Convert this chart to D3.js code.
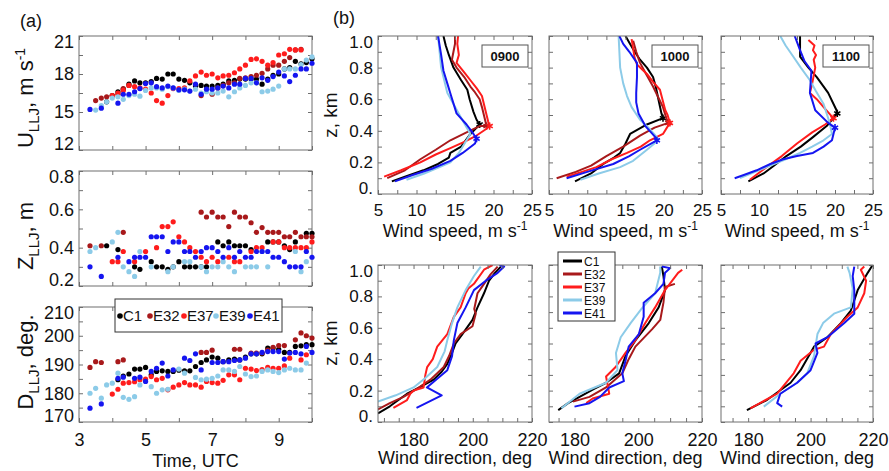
<!DOCTYPE html>
<html>
<head>
<meta charset="utf-8">
<script src="https://cdn.jsdelivr.net/npm/d3@7"></script>
<style>
  body { margin: 0; background: #fff; }
  text { font-family: "Liberation Sans", Arial, Helvetica, sans-serif; fill: #111; }
</style>
</head>
<body>
<svg id="chart" width="889" height="471"></svg>
<script>
// ---------- data ----------
var stations = ["C1", "E32", "E37", "E39", "E41"];
var colors = ["#000000", "#a8191b", "#ff1c1c", "#8ccbe8", "#1515f0"];

// (a) 10-min LLJ statistics, 03:20 - 10:00 UTC
var hours = [3.33,3.5,3.67,3.83,4,4.17,4.33,4.5,4.67,4.83,5,5.17,5.33,5.5,5.67,5.83,6,6.17,6.33,6.5,6.67,6.83,
             7,7.17,7.33,7.5,7.67,7.83,8,8.17,8.33,8.5,8.67,8.83,9,9.17,9.33,9.5,9.67,9.83,10];

var uC1  = [null,null,null,15.8,16.3,16.6,16.8,17.2,17.45,17.3,17.3,17.4,17.65,17.6,18.0,18.0,17.6,17.5,17.3,17.05,17.1,17.05,17.05,17.1,17.2,17.45,17.5,17.6,17.6,17.6,17.6,17.2,17.6,17.9,18.0,18.4,18.5,19.0,18.8,18.9,19.2];
var uE32 = [null,15.9,16.1,16.2,16.3,16.4,16.85,17.1,null,null,null,null,null,null,null,null,null,null,null,null,16.3,null,16.4,16.9,17.1,17.3,17.3,17.65,17.7,17.8,17.9,18.05,18.4,18.7,18.7,19.0,19.3,19.9,19.95,null,null];
var uE37 = [null,null,null,null,16.3,16.5,16.7,17.1,17.0,16.9,16.8,16.5,15.9,15.7,16.3,16.85,16.85,16.9,17.45,17.85,18.15,17.9,18.0,17.7,17.85,17.9,18.1,18.4,18.7,19.15,19.2,19.0,18.7,18.9,19.5,19.6,19.95,19.9,19.9,null,null];
var uE39 = [null,15.15,15.5,15.8,16.1,16.2,16.0,16.3,16.4,16.25,16.7,16.9,16.9,16.8,17.0,16.9,16.7,16.8,16.65,16.8,16.5,16.6,16.5,16.5,16.65,16.2,16.6,16.9,17.1,17.3,17.3,16.6,16.65,16.8,17.05,18.4,18.4,18.4,18.75,19.1,19.35];
var uE41 = [15.2,null,15.3,null,null,15.7,16.4,16.4,16.6,16.85,17.25,17.3,17.0,16.9,17.05,16.9,16.75,16.75,16.65,17.2,16.4,16.8,16.8,16.9,17.05,16.9,17.2,17.2,17.65,17.65,17.3,17.7,17.5,17.8,18.15,17.85,17.4,17.9,18.4,18.4,18.85];

var zC1  = [null,null,null,0.41,null,0.39,null,null,0.30,0.287,null,0.327,0.30,0.30,0.287,0.30,0.327,0.30,0.30,0.30,0.30,0.30,null,0.43,0.41,0.43,0.41,0.41,0.41,0.39,null,null,0.43,0.43,0.43,0.41,0.39,0.43,null,0.475,0.475];
var zE32 = [0.41,null,0.41,null,null,null,0.48,null,null,null,null,null,null,null,null,null,null,null,null,null,0.585,0.56,0.585,0.56,0.56,0.51,0.585,0.56,0.56,0.53,0.48,0.505,0.48,0.48,0.48,0.457,0.457,0.48,0.457,0.457,0.457];
var zE37 = [null,null,null,null,0.327,0.327,0.38,null,0.327,null,0.38,null,0.40,0.51,0.51,0.535,0.457,0.43,0.40,0.38,0.35,0.327,0.35,0.327,null,0.35,0.327,0.327,null,0.38,0.40,0.40,null,0.43,0.43,0.40,0.40,0.40,0.40,0.40,0.43];
var zE39 = [0.38,0.40,null,null,0.43,0.48,0.30,0.275,0.25,0.38,null,0.30,null,null,0.275,0.30,null,0.327,0.327,null,0.30,0.275,0.30,0.30,0.327,0.30,0.275,null,0.30,0.30,0.30,0.38,0.30,null,null,null,null,0.38,0.275,0.327,null];
var zE41 = [0.30,null,0.25,null,null,0.35,null,0.327,0.35,0.35,0.35,0.457,0.457,0.457,0.38,0.43,0.43,0.38,0.38,0.35,0.38,0.40,0.40,0.38,0.35,0.40,0.35,0.38,0.35,0.35,0.38,0.38,0.38,0.35,0.35,0.327,0.30,0.30,0.30,0.38,0.35];

var dC1  = [null,null,null,null,null,184.7,186,186.7,188.4,188.4,189,186.4,187.6,187.8,187.6,187.6,188,187.8,187.8,189.3,190.7,191.6,192.6,192.2,191,191.6,191.9,191.6,192.6,193.7,193.7,193.7,195.7,195.7,195.3,194.2,194.2,196.3,196.5,196.9,196.9];
var dE32 = [189,191,190.7,null,null,191,191.6,null,null,null,null,null,null,null,null,null,null,null,null,null,194.2,194.2,195,null,null,null,195.3,195.3,null,194,194,194,195,196,196.6,196.6,null,198.6,201,200,199.2];
var dE37 = [null,null,null,null,179.7,181.4,183.5,183.7,184,184.7,184.9,185.8,184.7,185.2,181.2,182.1,182.9,183.7,182.9,182.9,182.1,184.1,183.7,183.5,184.5,186.4,186.4,184.7,188.7,188.4,187.9,188.2,189,188.7,188.7,189.5,192.2,null,191.6,193.4,null];
var dE39 = [180,181.7,178.3,182.9,183.5,187,178.6,177.9,178.8,182.9,null,182.3,180,181.2,181.4,null,188.4,187,null,185.5,184.7,184.9,185.2,186,188.1,188.1,187.6,189.3,186.7,185.8,186,187.6,188.1,187.6,187.2,188.1,188.7,188.1,188.1,190.5,null];
var dE41 = [174.8,null,176.3,null,null,185.2,185.6,null,185.2,185.6,184.1,187.6,188.7,190.5,186,188.1,null,192.2,191.4,193.7,188.1,null,190.7,190.7,191,191,191.4,191.6,192.2,193.7,193.7,194.2,194.5,194.5,194.5,191.9,194,194.2,193.7,196.3,194.2];

// (b) profiles: [value, z km], order C1, E32, E37, E39, E41
var spd0900 = [
  [[6.8,0.08],[8.5,0.11],[10.9,0.15],[12.8,0.19],[14.2,0.23],[14.4,0.26],[15.8,0.3],[17,0.38],[18.2,0.44],[17.8,0.47],[17.4,0.52],[16.9,0.6],[16.6,0.66],[15.8,0.72],[14.8,0.8],[14.2,0.88],[13.8,0.94],[13.5,1.0]],
  [[6.2,0.1],[8.5,0.15],[10.5,0.22],[12.5,0.28],[14.4,0.34],[16.5,0.39],[18.2,0.43],[19.1,0.43],[18.9,0.47],[18.5,0.55],[18.2,0.6],[17.5,0.65],[17,0.68],[16.2,0.74],[15.2,0.8],[14.6,0.85],[14.8,0.9],[15.0,0.95],[15,1.0]],
  [[5.8,0.11],[8,0.15],[10.5,0.2],[12.5,0.25],[14.4,0.29],[16.2,0.33],[17.8,0.37],[19,0.41],[19.5,0.43],[19.3,0.46],[19.1,0.5],[18.8,0.56],[18.5,0.62],[17.8,0.67],[17,0.72],[16.2,0.77],[15.2,0.83],[15.5,0.88],[15.3,0.95],[15.4,1.0]],
  [[8.7,0.09],[11,0.13],[13,0.17],[14.4,0.2],[15.5,0.26],[16.5,0.34],[17,0.38],[16.4,0.43],[15.7,0.49],[14.8,0.57],[14,0.64],[13.6,0.72],[13.2,0.8],[13,0.9],[12.8,1.0]],
  [[7.2,0.08],[9.5,0.12],[12,0.16],[14.4,0.21],[16,0.26],[17.6,0.32],[17.8,0.35],[17.4,0.38],[16.5,0.44],[15.2,0.51],[14.5,0.62],[14,0.7],[13.5,0.78],[13.2,0.88],[12.8,1.0]]
];
var spd1000 = [
  [[8.4,0.08],[10.5,0.13],[12.1,0.19],[13.5,0.23],[14.3,0.26],[15,0.32],[15.6,0.38],[17.8,0.44],[19.9,0.48],[19.7,0.51],[19.3,0.6],[19,0.67],[18.6,0.74],[17.8,0.8],[16.9,0.85],[16.2,0.9],[15.6,0.95],[15,1.0]],
  [[6,0.1],[8.5,0.14],[10.5,0.18],[12.5,0.24],[14.7,0.3],[16.9,0.37],[18.8,0.42],[20.6,0.45],[20.4,0.47],[19.9,0.55],[19.2,0.62],[18.6,0.68],[17.8,0.75],[16.9,0.83],[16.4,0.9],[16,0.97]],
  [[7.3,0.11],[9.3,0.14],[11.2,0.17],[13.2,0.22],[15.2,0.26],[17,0.3],[18.2,0.34],[19.9,0.38],[20.8,0.45],[20.5,0.5],[20.2,0.53],[19.5,0.66],[18.6,0.71],[17.8,0.76],[16.5,0.82],[16.2,0.86],[16,0.92],[15.8,0.98]],
  [[9.1,0.09],[11.5,0.13],[14.3,0.17],[16,0.21],[17.8,0.28],[19.3,0.34],[19.1,0.36],[18,0.42],[16.9,0.47],[15.8,0.55],[15.2,0.62],[14.7,0.7],[14.3,0.8],[14.2,0.9],[14.1,1.0]],
  [[7.3,0.1],[10,0.14],[13.4,0.19],[15.5,0.24],[16.9,0.28],[19.1,0.34],[18.9,0.36],[17.6,0.43],[16.7,0.51],[16.4,0.58],[16.4,0.64],[16.5,0.74],[16.5,0.83],[15.5,0.9],[14.7,0.95],[14.2,1.0]]
];
var spd1100 = [
  [[8.6,0.08],[10.6,0.13],[12,0.18],[13.6,0.24],[15.5,0.3],[17.1,0.36],[18.9,0.43],[20.3,0.51],[20.2,0.53],[19.1,0.64],[17.6,0.74],[16.5,0.8],[15.4,0.87],[15.4,0.94],[15.4,1.0]],
  null,
  [[8.8,0.09],[11,0.17],[13,0.24],[15,0.32],[17,0.39],[18.7,0.44],[19.8,0.48],[19.6,0.49],[18.5,0.55],[17.6,0.6],[16.7,0.64],[17,0.7],[17.4,0.8],[17.2,0.85],[17.5,0.88],[17.1,0.91],[17.3,0.94],[16.5,0.975]],
  [[7.5,0.1],[11,0.17],[13.5,0.22],[15.4,0.26],[17,0.3],[18.5,0.34],[19.6,0.38],[19.3,0.45],[18.5,0.57],[17.5,0.65],[16.7,0.72],[15.5,0.8],[14.5,0.87],[13.5,0.94],[12.8,1.0]],
  [[6.8,0.1],[8,0.12],[9.7,0.15],[11.5,0.19],[13.2,0.22],[15,0.24],[17.1,0.26],[18.5,0.3],[19.6,0.34],[19.8,0.38],[20,0.42],[19.1,0.45],[17.4,0.53],[16.7,0.64],[16.9,0.78],[16,0.84],[15.4,0.91],[14.7,1.0]]
];
var dir0900 = [
  [[168,0.055],[172,0.1],[177.8,0.18],[182,0.22],[186.8,0.27],[189.5,0.32],[191.4,0.37],[193,0.44],[194.2,0.5],[196.5,0.56],[199.9,0.65],[201.6,0.73],[203.8,0.82],[205.5,0.9],[207.5,0.95],[209.5,0.99]],
  [[168,0.08],[172,0.12],[176.6,0.16],[181,0.21],[185.7,0.27],[190.2,0.35],[192,0.42],[193.6,0.5],[195.9,0.56],[199.9,0.61],[201,0.69],[200.5,0.72],[201.6,0.82],[203.8,0.88],[206,0.94],[208.4,0.99]],
  [[173.2,0.09],[177.8,0.14],[178.9,0.18],[180,0.2],[183.4,0.22],[184,0.3],[184.6,0.35],[186.5,0.4],[188,0.48],[191.4,0.56],[193.6,0.67],[195.9,0.73],[197.6,0.82],[198.5,0.85],[200.4,0.88],[203.8,0.97],[206.7,1.0]],
  [[168,0.13],[174,0.17],[180,0.22],[184,0.28],[188,0.35],[190.5,0.45],[191.4,0.52],[193,0.63],[194.8,0.73],[197.6,0.84],[200.4,0.93],[202.7,0.99]],
  [[181,0.09],[189.5,0.17],[184.5,0.22],[187,0.26],[191.4,0.33],[193,0.42],[193.6,0.52],[194.8,0.63],[197.6,0.73],[200.4,0.84],[204.4,0.9],[208.4,0.95],[210.6,0.99],[209,1.0]]
];
var dir1000 = [
  [[174.9,0.076],[178,0.12],[181.6,0.16],[186,0.21],[189.9,0.25],[194,0.31],[196,0.42],[199.1,0.52],[203.3,0.63],[206.4,0.73],[208.4,0.84],[207.9,0.93],[207.4,0.99]],
  [[179.5,0.13],[184.7,0.16],[189.9,0.22],[195,0.31],[197,0.4],[199.1,0.48],[204.3,0.59],[206.9,0.65],[207.9,0.76],[208.4,0.86],[211.5,0.88]],
  [[183.7,0.12],[185.7,0.15],[190.9,0.18],[189.9,0.29],[192.9,0.35],[196,0.44],[199.1,0.52],[202.2,0.63],[205.3,0.73],[208.4,0.84],[212.5,0.95],[213.8,0.97]],
  [[175.9,0.087],[181.6,0.18],[189.9,0.25],[193.5,0.33],[193,0.44],[194.5,0.54],[197.6,0.63],[201,0.72],[205.3,0.82],[206.9,0.95],[206.9,0.99]],
  [[180,0.098],[184.7,0.12],[188,0.16],[190.9,0.22],[195.5,0.26],[195,0.31],[196,0.39],[197,0.48],[200.2,0.56],[201.7,0.67],[201.7,0.76],[205.3,0.82],[207.9,0.88],[208.4,0.95],[210,0.98],[207.4,0.99]]
];
var dir1100 = [
  [[179.6,0.076],[186,0.14],[193.6,0.25],[196.8,0.33],[201.1,0.48],[205.4,0.54],[209.7,0.63],[212.9,0.71],[215.1,0.84],[218.3,0.95],[219.9,1.0]],
  null,
  [[180.7,0.087],[189.3,0.18],[194.6,0.31],[196.8,0.39],[201.1,0.46],[204.3,0.48],[206.5,0.56],[211.8,0.67],[215.1,0.73],[217.2,0.82],[217.8,0.9],[216.1,0.97],[217.2,0.99]],
  [[185,0.098],[190.3,0.18],[195.7,0.25],[198.9,0.31],[201.1,0.42],[202.2,0.56],[204,0.63],[207.5,0.69],[212.9,0.73],[213.5,0.85],[212.5,0.95],[211.8,0.99]],
  [[190.9,0.098],[189.3,0.12],[190.3,0.18],[195.7,0.25],[200,0.33],[202.2,0.44],[201.6,0.5],[205.4,0.54],[210.8,0.63],[214,0.69],[214,0.84],[213.5,0.93],[214,0.99]]
];
var profileTimes = ["0900", "1000", "1100"];

// ---------- drawing ----------
var svg = d3.select("#chart");
var edge = "#6e6e6e";

function frame(xs, ys, o) {
  var x0 = xs.range()[0], x1 = xs.range()[1];
  var y1 = ys.range()[0], y0 = ys.range()[1];
  var g = svg.append("g");
  var none = function() { return ""; };

  var L = g.append("g").attr("transform", "translate(" + x0 + ",0)")
    .call(d3.axisLeft(ys).tickValues(o.yTicks).tickSize(-4).tickPadding(5).tickFormat(o.yLab || none));
  L.selectAll(".tick text").style("font-size", o.yFont + "px")
    .attr("y", function(d) {
      var p = ys(d);
      return p < y0 + 6 ? y0 + 6 - p : (p > y1 - 6 ? y1 - 6 - p : 0);
    });
  g.append("g").attr("transform", "translate(" + x1 + ",0)")
    .call(d3.axisRight(ys).tickValues(o.yTicks).tickSize(-4).tickFormat(none));

  var B = g.append("g").attr("transform", "translate(0," + y1 + ")")
    .call(d3.axisBottom(xs).tickValues(o.xTicks).tickSize(-4).tickPadding(o.xPad || 11).tickFormat(o.xLab || none));
  B.selectAll(".tick text").style("font-size", o.xFont + "px");
  g.append("g").attr("transform", "translate(0," + y0 + ")")
    .call(d3.axisTop(xs).tickValues(o.xTicks).tickSize(-4).tickFormat(none));

  g.selectAll(".domain").remove();
  g.selectAll(".tick line").attr("stroke", edge);
  g.append("rect").attr("x", x0).attr("y", y0).attr("width", x1 - x0).attr("height", y1 - y0)
    .attr("fill", "none").attr("stroke", edge).attr("stroke-width", 1);
  return g;
}

function rotLabel(x, y, parts, fs) {
  var t = svg.append("text").attr("transform", "translate(" + x + "," + y + ") rotate(-90)")
    .attr("text-anchor", "middle").style("font-size", fs + "px");
  parts.forEach(function(p) {
    var s = t.append("tspan").text(p[0]);
    if (p[1]) s.attr("dy", p[1]);
    if (p[2]) s.style("font-size", p[2] + "px");
  });
}

// ----- panel (a) -----
var tx = d3.scaleLinear().domain([3, 10]).range([79, 312]);
var hourTicks = d3.range(3, 11, 1);
var panelsA = [
  { vals: [uC1, uE32, uE37, uE39, uE41], dom: [12, 21], rng: [150, 36], ticks: d3.range(12, 21.1, 1.5),
    lab: function(d) { return d % 3 === 0 ? d : ""; } },
  { vals: [zC1, zE32, zE37, zE39, zE41], dom: [0.2, 0.8], rng: [286, 171], ticks: d3.range(0.2, 0.81, 0.1),
    lab: function(d) { var r = Math.round(d * 10); return r % 2 === 0 ? (r / 10).toFixed(1) : ""; } },
  { vals: [dC1, dE32, dE37, dE39, dE41], dom: [170, 210], rng: [422, 307], ticks: d3.range(170, 211, 5),
    lab: function(d) { return d % 10 === 0 ? d : ""; } }
];
panelsA.forEach(function(p, pi) {
  var ys = d3.scaleLinear().domain(p.dom).range(p.rng);
  frame(tx, ys, { yTicks: p.ticks, yLab: p.lab, yFont: 18, xTicks: hourTicks, xFont: 18,
    xLab: pi === 2 ? function(d) { return d % 2 === 1 ? d : ""; } : null });
  p.vals.forEach(function(arr, si) {
    var pts = hours.map(function(h, i) { return [h, arr[i]]; }).filter(function(d) { return d[1] != null; });
    svg.append("g").selectAll("circle").data(pts).enter().append("circle")
      .attr("cx", function(d) { return tx(d[0]); })
      .attr("cy", function(d) { return ys(d[1]); })
      .attr("r", 2.6)
      .attr("fill", colors[si]);
  });
});

svg.append("text").attr("x", 20).attr("y", 27).style("font-size", "18px").text("(a)");
rotLabel(33, 98, [["U"], ["LLJ", 6, 15], [", m s", -6], ["-1", -8, 14]], 22);
rotLabel(33, 236, [["Z"], ["LLJ", 6, 15], [", m", -6]], 22);
rotLabel(33, 362, [["D"], ["LLJ", 6, 15], [", deg.", -6]], 22);
svg.append("text").attr("x", 195.5).attr("y", 467).attr("text-anchor", "middle").style("font-size", "18px").text("Time, UTC");

// legend (a)
var legA = svg.append("g");
legA.append("rect").attr("x", 115).attr("y", 299).attr("width", 167).attr("height", 33)
  .attr("fill", "#fff").attr("stroke", "#333").attr("stroke-width", 1);
var legAX = [120, 150, 184, 216, 250];
stations.forEach(function(s, i) {
  legA.append("circle").attr("cx", legAX[i]).attr("cy", 316).attr("r", 2.8).attr("fill", colors[i]);
  legA.append("text").attr("x", legAX[i] + 3).attr("y", 321).style("font-size", "15px").text(s);
});

// ----- panel (b) -----
var colX = [[378, 532], [549, 702], [721, 873]];
var dirDom = [[168, 220], [172, 220], [171.3, 220]];
var spdSets = [spd0900, spd1000, spd1100];
var dirSets = [dir0900, dir1000, dir1100];
var zTicks = d3.range(0, 1.01, 0.1);
var zLab = function(d) {
  var r = Math.round(d * 10);
  if (r === 0) return "0.";
  return r % 2 === 0 ? (r / 10).toFixed(1) : "";
};
var line = function(xs, ys) {
  return d3.line().x(function(d) { return xs(d[0]); }).y(function(d) { return ys(d[1]); });
};
var defs = svg.append("defs");

colX.forEach(function(cx, c) {
  // wind speed
  var xs = d3.scaleLinear().domain([5, 25]).range(cx);
  var ys = d3.scaleLinear().domain([0, 1]).range([194, 36]);
  var clipId = "clipT" + c;
  defs.append("clipPath").attr("id", clipId).append("rect")
    .attr("x", cx[0]).attr("y", 36).attr("width", cx[1] - cx[0]).attr("height", 158);
  var lg = svg.append("g").attr("clip-path", "url(#" + clipId + ")");
  spdSets[c].forEach(function(prof, si) {
    if (!prof) return;
    lg.append("path").datum(prof).attr("d", line(xs, ys)).attr("fill", "none")
      .attr("stroke", colors[si]).attr("stroke-width", 2).attr("stroke-linejoin", "round");
    if (si !== 3) {
      var pk = prof.reduce(function(a, b) { return b[0] > a[0] ? b : a; });
      lg.append("path").attr("d", d3.symbol(d3.symbolAsterisk, 36)())
        .attr("transform", "translate(" + xs(pk[0]) + "," + ys(pk[1]) + ")")
        .attr("fill", "none").attr("stroke", colors[si]).attr("stroke-width", 1.6);
    }
  });
  frame(xs, ys, { yTicks: zTicks, yLab: c === 0 ? zLab : null, yFont: 17,
    xTicks: d3.range(5, 25.1, 2.5), xFont: 17, xPad: 10,
    xLab: function(d) { return d % 5 === 0 ? d : ""; } });
  var lbl = svg.append("text").attr("x", (cx[0] + cx[1]) / 2).attr("y", 237)
    .attr("text-anchor", "middle").style("font-size", "18px");
  lbl.append("tspan").text("Wind speed, m s");
  lbl.append("tspan").attr("dy", -7).style("font-size", "12px").text("-1");

  // time tag
  var tag = svg.append("g");
  tag.append("rect").attr("x", cx[1] - 50).attr("y", 45).attr("width", 46).attr("height", 22)
    .attr("fill", "#fff").attr("stroke", "#555").attr("stroke-width", 1);
  tag.append("text").attr("x", cx[1] - 27).attr("y", 61).attr("text-anchor", "middle")
    .style("font-size", "13px").style("font-weight", "bold").text(profileTimes[c]);

  // wind direction
  var xd = d3.scaleLinear().domain(dirDom[c]).range(cx);
  var yd = d3.scaleLinear().domain([0, 1]).range([422, 265]);
  var clipB = "clipB" + c;
  defs.append("clipPath").attr("id", clipB).append("rect")
    .attr("x", cx[0]).attr("y", 265).attr("width", cx[1] - cx[0]).attr("height", 157);
  var lb = svg.append("g").attr("clip-path", "url(#" + clipB + ")");
  dirSets[c].forEach(function(prof, si) {
    if (!prof) return;
    lb.append("path").datum(prof).attr("d", line(xd, yd)).attr("fill", "none")
      .attr("stroke", colors[si]).attr("stroke-width", 2).attr("stroke-linejoin", "round");
  });
  var dt = d3.range(Math.ceil(dirDom[c][0] / 5) * 5, 220.1, 5);
  frame(xd, yd, { yTicks: zTicks, yLab: c === 0 ? zLab : null, yFont: 17,
    xTicks: dt, xFont: 18,
    xLab: function(d) { return d % 20 === 0 ? d : ""; } });
  svg.append("text").attr("x", (cx[0] + cx[1]) / 2).attr("y", 464)
    .attr("text-anchor", "middle").style("font-size", "18px").text("Wind direction, deg");
});

svg.append("text").attr("x", 333).attr("y", 24).style("font-size", "18px").text("(b)");
rotLabel(337, 115, [["z, km"]], 19);
rotLabel(337, 343, [["z, km"]], 19);

// legend (b)
var legB = svg.append("g");
legB.append("rect").attr("x", 558).attr("y", 252).attr("width", 57).attr("height", 69)
  .attr("fill", "#fff").attr("stroke", "#333").attr("stroke-width", 1);
stations.forEach(function(s, i) {
  var yy = 261 + i * 13;
  legB.append("line").attr("x1", 563).attr("x2", 582).attr("y1", yy).attr("y2", yy)
    .attr("stroke", colors[i]).attr("stroke-width", 3);
  legB.append("text").attr("x", 584).attr("y", yy + 4.5).style("font-size", "12px").text(s);
});
</script>
</body>
</html>
